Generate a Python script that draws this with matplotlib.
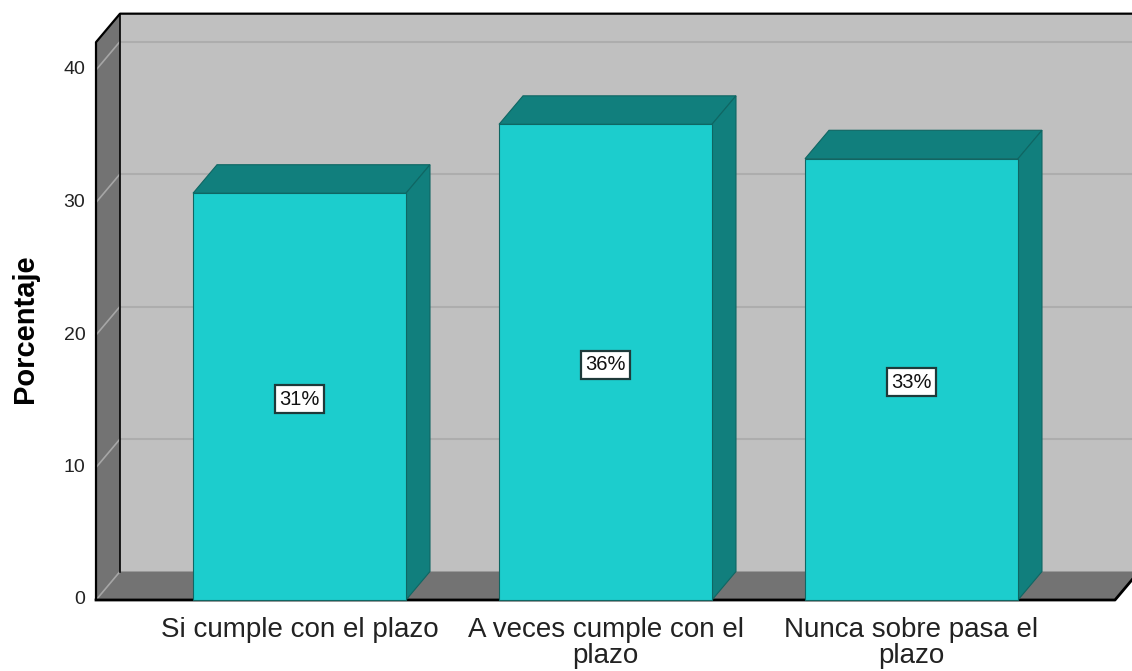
import matplotlib
matplotlib.use("Agg")
import matplotlib.pyplot as plt
from matplotlib.patches import Polygon

# ---- data ----
categories = ["Si cumple con el plazo", "A veces cumple con el\nplazo", "Nunca sobre pasa el\nplazo"]
values = [30.7, 35.9, 33.3]
bar_labels = ["31%", "36%", "33%"]
yticks = [0, 10, 20, 30, 40]
ylabel = "Porcentaje"

# ---- style ----
FRONT = "#1CCDCD"
DARK = "#117F7D"
EDGE = "#0F6663"
WALL = "#C0C0C0"
SIDE = "#737373"
GRID = "#ADADAD"
SIDEGRID = "#A6A6A6"

W, H = 1132, 671
fig = plt.figure(figsize=(W / 100, H / 100), dpi=100)
ax = fig.add_axes([0, 0, 1, 1])

# coordinate system: categories 0..n-1 in x, percentage in y
px_per_x = 306.0
px_per_y = 13.25
x0_px, y0_px = 299.5, 600.0
ax.set_xlim(-x0_px / px_per_x, (W - x0_px) / px_per_x)
ax.set_ylim(-(H - y0_px) / px_per_y, y0_px / px_per_y)
ax.axis("off")

DX = 24 / px_per_x       # depth offset in x (data units)
DY = 28.5 / px_per_y     # depth offset in y (data units)
xl, xr = -0.665, 2.665   # front plane extent
ytop = 42.1
bw = 0.696

def poly(pts, fc, ec="none", lw=0, z=1):
    ax.add_patch(Polygon(pts, closed=True, facecolor=fc, edgecolor=ec, linewidth=lw, zorder=z))

# back wall
poly([(xl + DX, DY), (xr + DX + 0.2, DY), (xr + DX + 0.2, ytop + DY), (xl + DX, ytop + DY)], WALL, z=1)
for t in yticks[1:]:
    ax.plot([xl + DX, xr + DX + 0.2], [t + DY, t + DY], color=GRID, lw=1.5, zorder=2)
# left wall
poly([(xl, 0), (xl + DX, DY), (xl + DX, ytop + DY), (xl, ytop)], SIDE, z=3)
for t in yticks:
    ax.plot([xl, xl + DX], [t, t + DY], color=SIDEGRID, lw=1.2, zorder=4)
# floor
poly([(xl, 0), (xr, 0), (xr + DX, DY), (xl + DX, DY)], SIDE, z=3)

# frame lines
k = dict(color="black", lw=1.6, zorder=5, solid_capstyle="butt")
ax.plot([xl, xl, xl + DX, xr + DX + 0.2], [0, ytop, ytop + DY, ytop + DY], **k)
ax.plot([xl + DX, xl + DX], [DY, ytop + DY], color="black", lw=1.2, zorder=5)
ax.plot([xl, xr, xr + DX], [0, 0, DY], color="black", lw=2.0, zorder=5)

# bars
for i, v in enumerate(values):
    a, b = i - bw / 2, i + bw / 2
    poly([(a, v), (b, v), (b + DX, v + DY), (a + DX, v + DY)], DARK, EDGE, 0.8, 10)
    poly([(b, 0), (b + DX, DY), (b + DX, v + DY), (b, v)], DARK, EDGE, 0.8, 10)
    poly([(a, 0), (b, 0), (b, v), (a, v)], FRONT, EDGE, 0.8, 11)
    ax.text(i, v / 2 - 0.2, bar_labels[i], ha="center", va="center", fontsize=14.5,
            family="Liberation Sans", color="#111111", zorder=20,
            bbox=dict(boxstyle="square,pad=0.22", fc="white", ec="#1E3A3A", lw=1.6))

# tick labels
for t in yticks:
    ax.text(xl - 0.035, t, str(t), ha="right", va="center", fontsize=14,
            family="Liberation Sans", color="#222222")

# category labels
for i, c in enumerate(categories):
    ax.text(i, -1.25, c, ha="center", va="top", fontsize=20, linespacing=1.0,
            family="Liberation Sans", color="#222222")

# y label
ax.text((25 - x0_px) / px_per_x, (y0_px - 329) / px_per_y, ylabel, rotation=90,
        ha="center", va="center", fontsize=21, fontweight="bold",
        family="Liberation Sans", color="black")

fig.savefig("out.png", dpi=100, facecolor="white")
